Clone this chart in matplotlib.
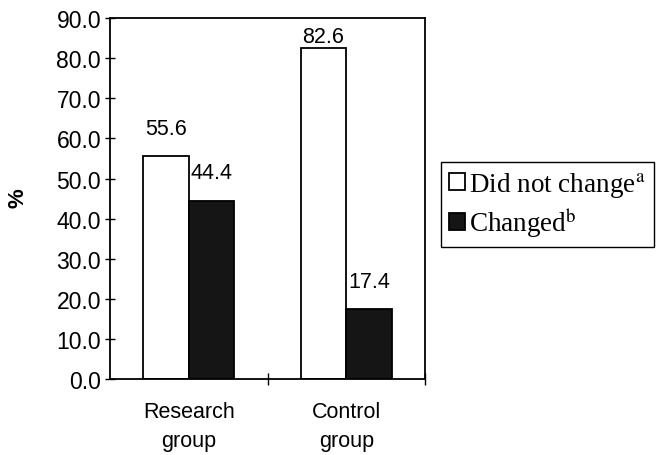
import numpy as np
from matplotlib import pyplot as plt

groups = ['Research\ngroup', 'Control\ngroup']
did_not_change = [55.6, 82.6]
changed = [44.4, 17.4]
yticks = [0, 10, 20, 30, 40, 50, 60, 70, 80, 90]

plt.rcParams['font.family'] = ['Liberation Sans', 'DejaVu Sans']
plt.rcParams['mathtext.fontset'] = 'stix'

fig = plt.figure(figsize=(6.59, 4.56), dpi=100)
ax = fig.add_axes([0.167, 0.1667, 0.478, 0.7913])

x = np.arange(len(groups))
w = 0.29
b1 = ax.bar(x - w/2, did_not_change, w, color='white', edgecolor='black', lw=1.3,
            label='Did not change$^{\\mathrm{a}}$')
b2 = ax.bar(x + w/2, changed, w, color='#151515', edgecolor='black', lw=1.3,
            label='Changed$^{\\mathrm{b}}$')

# value labels, kept under the top of the frame
for bars, vals in [(b1, did_not_change), (b2, changed)]:
    for r, v in zip(bars, vals):
        ax.text(r.get_x() + r.get_width()/2, min(v + 7, 85.5), '%.1f' % v,
                ha='center', va='center', fontsize=15.5)

ax.set_xlim(-0.5, 1.5)
ax.set_ylim(0, 90)
ax.set_yticks(yticks)
ax.set_yticklabels(['%.1f' % t for t in yticks], fontsize=16.5)
ax.tick_params(axis='y', direction='inout', length=7, width=1, pad=3)

ax.set_xticks([0.5, 1.5])
ax.set_xticklabels([])
ax.tick_params(axis='x', which='major', direction='inout', length=8, width=1)
ax.set_xticks(x, minor=True)
ax.set_xticklabels(groups, minor=True, fontsize=15.5, linespacing=1.5)
ax.tick_params(axis='x', which='minor', length=0, pad=16)

for s in ax.spines.values():
    s.set_linewidth(1.3)

fig.text(0.028, 0.565, '%', rotation=90, fontsize=16, fontweight='bold',
         ha='center', va='center')

leg = ax.legend(loc='upper left', bbox_to_anchor=(0.669, 0.643), bbox_transform=fig.transFigure,
                frameon=True, fancybox=False, edgecolor='black', framealpha=1,
                prop={'family': 'Liberation Serif', 'size': 19.5},
                handlelength=0.6, handleheight=0.6, handletextpad=0.15,
                borderpad=0.3, labelspacing=0.25, borderaxespad=0)
leg.get_frame().set_linewidth(1.0)

fig.savefig('out.png', dpi=100)
